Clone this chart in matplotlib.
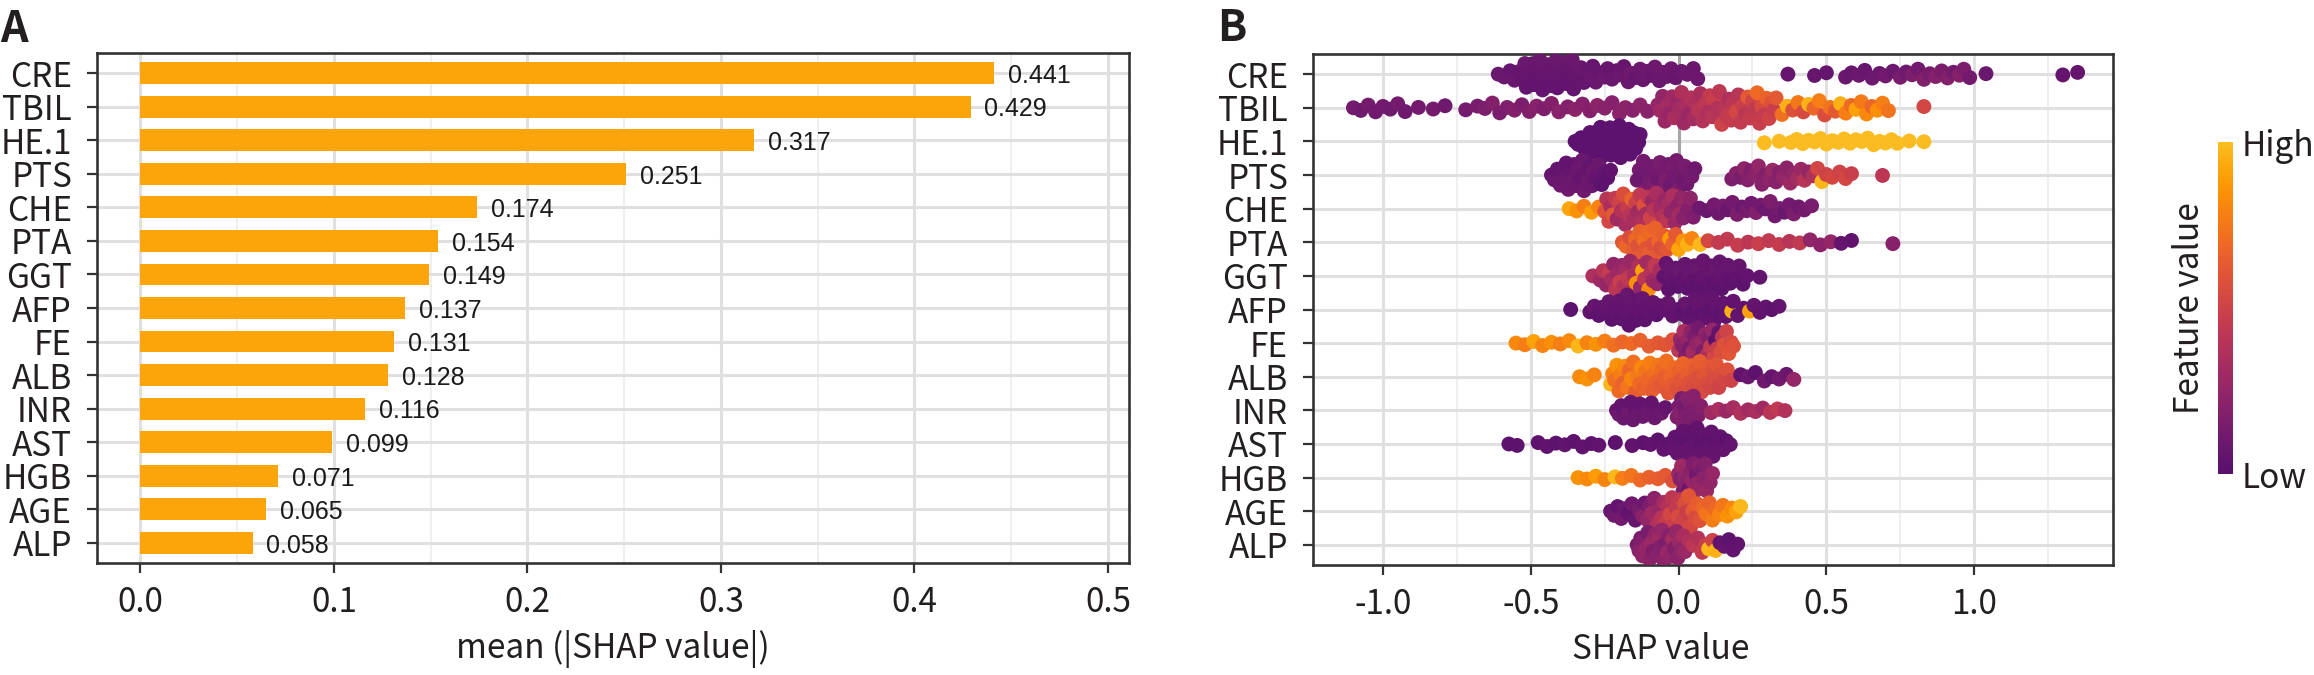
import numpy as np
import matplotlib
matplotlib.use('Agg')
import matplotlib.pyplot as plt
from matplotlib.colors import ListedColormap

plt.rcParams['font.family'] = ['Noto Sans CJK SC', 'DejaVu Sans']

features = ["CRE", "TBIL", "HE.1", "PTS", "CHE", "PTA", "GGT", "AFP",
            "FE", "ALB", "INR", "AST", "HGB", "AGE", "ALP"]
mean_abs_shap = [0.441, 0.429, 0.317, 0.251, 0.174, 0.154, 0.149, 0.137,
                 0.131, 0.128, 0.116, 0.099, 0.071, 0.065, 0.058]

# beeswarm data: (SHAP value, scaled feature value) per feature
CRE = [(-0.61, .08), (-0.59, .08), (-0.57, .06), (-0.555, .08), (-0.54, .06),
       (-0.53, .06), (-0.52, .08), (-0.515, .05), (-0.51, .07), (-0.50, .06), (-0.495, .08),
       (-0.49, .05), (-0.48, .07), (-0.475, .06), (-0.47, .08), (-0.46, .05), (-0.455, .07),
       (-0.45, .06), (-0.44, .08), (-0.435, .05), (-0.43, .07), (-0.42, .06), (-0.415, .08),
       (-0.41, .05), (-0.40, .07), (-0.395, .06), (-0.39, .08), (-0.38, .05), (-0.375, .07),
       (-0.37, .06), (-0.36, .08), (-0.355, .05), (-0.35, .07), (-0.34, .06), (-0.33, .08),
       (-0.32, .06), (-0.31, .07), (-0.30, .08),
       (-0.29, .07), (-0.28, .08), (-0.265, .06), (-0.25, .09), (-0.24, .07), (-0.225, .08),
       (-0.21, .06), (-0.20, .09), (-0.185, .07), (-0.17, .08), (-0.16, .10), (-0.145, .07),
       (-0.13, .09), (-0.12, .08), (-0.105, .10), (-0.09, .07), (-0.08, .09), (-0.065, .08),
       (-0.05, .10), (-0.04, .08), (-0.025, .09), (-0.01, .07),
       (0.01, .08), (0.03, .10), (0.05, .08), (0.065, .09),
       (0.37, .06), (0.46, .07), (0.50, .06), (0.565, .08), (0.585, .07), (0.61, .09),
       (0.63, .07), (0.655, .10), (0.68, .08), (0.70, .12), (0.725, .09), (0.75, .14),
       (0.77, .10), (0.79, .16), (0.81, .12), (0.83, .18), (0.85, .14), (0.87, .20),
       (0.89, .15), (0.91, .18), (0.93, .13), (0.95, .20), (0.965, .16), (0.985, .12),
       (1.04, .08), (1.30, .06), (1.35, .06)]

TBIL = [(-1.10, .12), (-1.075, .10), (-1.05, .13), (-1.025, .11), (-1.00, .12), (-0.975, .10),
        (-0.95, .13), (-0.925, .11),
        (-0.88, .12), (-0.83, .13), (-0.79, .10), (-0.72, .13),
        (-0.68, .14), (-0.655, .16), (-0.63, .18), (-0.605, .15), (-0.58, .17), (-0.555, .19),
        (-0.53, .16), (-0.505, .18), (-0.48, .20), (-0.455, .17), (-0.43, .19), (-0.405, .21),
        (-0.375, .18), (-0.35, .22), (-0.325, .20), (-0.30, .19), (-0.275, .23), (-0.25, .21),
        (-0.225, .20), (-0.20, .23), (-0.18, .22),
        (-0.155, .20), (-0.13, .23), (-0.105, .21),
        (-0.07, .26), (-0.062, .30), (-0.054, .24), (-0.046, .28), (-0.038, .32), (-0.03, .26),
        (-0.022, .30), (-0.014, .34), (-0.006, .28), (0.002, .32), (0.01, .36), (0.018, .30),
        (0.026, .34), (0.034, .28), (0.042, .38), (0.05, .32), (0.058, .36), (0.066, .40),
        (0.074, .34), (0.082, .38), (0.09, .42), (0.098, .36), (0.106, .45), (0.114, .40),
        (0.122, .48), (0.13, .38), (0.138, .42), (0.146, .50), (0.154, .40), (0.162, .44),
        (0.17, .37), (0.178, .46), (0.186, .42), (0.194, .52), (0.202, .40), (0.21, .45),
        (0.218, .48), (0.226, .42), (0.234, .62), (0.242, .46), (0.25, .50), (0.258, .44),
        (0.266, .70), (0.274, .48), (0.282, .55), (0.29, .46), (0.298, .66), (0.306, .50),
        (0.314, .58), (0.322, .48), (0.33, .62),
        (0.35, .72), (0.368, .95), (0.386, .58), (0.404, .75), (0.422, .54), (0.44, .96),
        (0.458, .68), (0.476, .78), (0.494, .56), (0.512, .74), (0.53, .62), (0.548, .95),
        (0.566, .78), (0.584, .70), (0.60, .90), (0.618, .76), (0.636, .82), (0.654, .68),
        (0.672, .84), (0.69, .78), (0.71, .74),
        (0.83, .52)]

HE1 = [(-0.35, .02), (-0.34, .02), (-0.33, .02), (-0.32, .02), (-0.313, .02), (-0.306, .02),
       (-0.30, .02), (-0.295, .02), (-0.29, .02), (-0.285, .02), (-0.28, .02), (-0.276, .02),
       (-0.272, .02), (-0.268, .02), (-0.264, .02), (-0.26, .02), (-0.256, .02), (-0.252, .02),
       (-0.248, .02), (-0.244, .02), (-0.24, .02), (-0.236, .02), (-0.232, .02), (-0.228, .02),
       (-0.224, .02), (-0.22, .02), (-0.216, .02), (-0.212, .02), (-0.208, .02), (-0.204, .02),
       (-0.20, .02), (-0.196, .02), (-0.192, .02), (-0.188, .02), (-0.184, .02), (-0.18, .02),
       (-0.176, .02), (-0.172, .02), (-0.168, .02), (-0.164, .02), (-0.16, .02), (-0.155, .02),
       (-0.15, .02), (-0.145, .02), (-0.14, .02), (-0.135, .02), (-0.13, .02),
       (0.29, .99), (0.34, .99), (0.38, .99), (0.40, .99), (0.42, .99), (0.44, .99),
       (0.46, .99), (0.48, .99), (0.50, .99), (0.52, .99), (0.54, .99), (0.56, .99),
       (0.58, .99), (0.60, .99), (0.62, .99), (0.64, .99), (0.66, .99), (0.68, .99),
       (0.70, .99), (0.72, .99), (0.74, .99), (0.78, .99), (0.83, .99)]

PTS = [(-0.43, .06), (-0.42, .08), (-0.41, .05), (-0.40, .09), (-0.393, .06), (-0.386, .08),
       (-0.38, .05), (-0.373, .10), (-0.366, .07), (-0.36, .09), (-0.353, .05), (-0.346, .08),
       (-0.34, .09), (-0.333, .06), (-0.326, .08), (-0.32, .11), (-0.313, .07), (-0.306, .09),
       (-0.30, .05), (-0.293, .08), (-0.286, .10), (-0.28, .06), (-0.27, .08), (-0.26, .03),
       (-0.25, .05), (-0.24, .03), (-0.23, .04),
       (-0.14, .10), (-0.133, .13), (-0.126, .09), (-0.119, .12), (-0.112, .15), (-0.105, .10),
       (-0.098, .13), (-0.091, .11), (-0.084, .15), (-0.077, .12), (-0.07, .10), (-0.063, .14),
       (-0.056, .11), (-0.049, .13), (-0.042, .16), (-0.035, .12), (-0.028, .10), (-0.021, .14),
       (-0.014, .11), (-0.007, .13), (0.0, .15), (0.007, .12), (0.014, .10), (0.021, .14),
       (0.028, .11), (0.035, .13), (0.045, .12), (0.055, .10),
       (0.18, .16), (0.195, .20), (0.21, .15), (0.222, .23), (0.234, .19), (0.246, .17),
       (0.258, .22), (0.27, .25), (0.282, .20), (0.294, .18), (0.306, .23), (0.318, .27),
       (0.33, .21), (0.342, .19), (0.354, .25), (0.366, .22), (0.378, .29), (0.39, .24),
       (0.402, .33), (0.414, .28), (0.426, .40), (0.44, .25), (0.455, .36), (0.47, .52),
       (0.485, .97), (0.50, .50), (0.52, .53), (0.545, .50), (0.565, .53), (0.585, .48),
       (0.69, .42)]

CHE = [(-0.37, .92), (-0.345, .85), (-0.32, .78), (-0.295, .88), (-0.27, .80),
       (-0.25, .58), (-0.243, .40), (-0.236, .52), (-0.229, .35), (-0.222, .62), (-0.215, .44),
       (-0.208, .30), (-0.201, .50), (-0.194, .38), (-0.187, .56), (-0.18, .33), (-0.173, .46),
       (-0.166, .40), (-0.159, .66), (-0.152, .35), (-0.145, .50), (-0.138, .31), (-0.131, .44),
       (-0.124, .37), (-0.117, .58), (-0.11, .33), (-0.103, .42), (-0.096, .50), (-0.089, .29),
       (-0.082, .40), (-0.075, .35), (-0.068, .54), (-0.061, .31), (-0.054, .38), (-0.047, .27),
       (-0.04, .42), (-0.033, .33), (-0.026, .25), (-0.019, .36), (-0.012, .29), (-0.005, .23),
       (0.002, .31), (0.009, .25), (0.016, .21), (0.023, .27), (0.03, .19), (0.04, .23),
       (0.05, .17),
       (0.07, .10), (0.095, .08), (0.12, .12),
       (0.135, .10), (0.15, .14), (0.166, .08), (0.182, .12), (0.198, .16), (0.214, .09),
       (0.23, .14), (0.246, .11), (0.262, .18), (0.278, .12), (0.294, .09), (0.31, .16),
       (0.326, .11), (0.342, .14), (0.358, .08), (0.374, .12), (0.39, .16), (0.406, .10),
       (0.425, .12), (0.45, .14)]

PTA = [(-0.19, .60), (-0.178, .68), (-0.166, .56), (-0.154, .64), (-0.145, .70), (-0.138, .58),
       (-0.131, .66), (-0.124, .62), (-0.117, .72), (-0.11, .60), (-0.104, .68), (-0.098, .64),
       (-0.092, .70), (-0.086, .58), (-0.08, .66), (-0.074, .62), (-0.067, .68), (-0.06, .56),
       (-0.05, .64), (-0.04, .60), (-0.03, .88), (-0.02, .66), (-0.01, .62), (0.0, .92),
       (0.015, .85), (0.03, .95), (0.045, .80), (0.073, .98), (0.10, .52), (0.135, .45),
       (0.165, .44), (0.20, .46), (0.235, .42), (0.27, .48), (0.305, .44), (0.34, .46),
       (0.375, .40), (0.41, .44), (0.445, .24), (0.48, .22), (0.515, .26), (0.55, .06),
       (0.585, .04), (0.725, .20)]

GGT = [(-0.29, .36),
       (-0.265, .30), (-0.255, .40), (-0.245, .26), (-0.235, .46), (-0.227, .33), (-0.22, .24),
       (-0.213, .42), (-0.206, .30), (-0.199, .48), (-0.192, .26), (-0.185, .38), (-0.178, .32),
       (-0.171, .44), (-0.164, .28), (-0.157, .40), (-0.15, .34), (-0.143, .85), (-0.136, .36),
       (-0.129, .26), (-0.122, .90), (-0.115, .42), (-0.108, .32), (-0.101, .82), (-0.094, .38),
       (-0.087, .30), (-0.08, .44), (-0.072, .26), (-0.064, .34),
       (-0.05, .04), (-0.042, .06), (-0.034, .03), (-0.026, .07), (-0.018, .04), (-0.01, .06),
       (-0.002, .03), (0.006, .08), (0.014, .04), (0.022, .06), (0.03, .03), (0.038, .07),
       (0.046, .04), (0.054, .06), (0.062, .03), (0.069, .08), (0.076, .04), (0.083, .06),
       (0.09, .03), (0.097, .07), (0.104, .04), (0.111, .06), (0.118, .03), (0.125, .08),
       (0.132, .04), (0.139, .06), (0.146, .03), (0.153, .07), (0.16, .04), (0.167, .06),
       (0.175, .03), (0.185, .07), (0.195, .04), (0.205, .06), (0.218, .03), (0.232, .05),
       (0.275, .04)]

AFP = [(-0.365, .03),
       (-0.30, .04), (-0.285, .06), (-0.27, .03), (-0.258, .05), (-0.246, .04), (-0.236, .07),
       (-0.226, .03), (-0.217, .05), (-0.208, .04), (-0.20, .06), (-0.193, .03), (-0.186, .05),
       (-0.18, .04), (-0.174, .07), (-0.168, .03), (-0.162, .05), (-0.156, .04), (-0.15, .06),
       (-0.144, .03), (-0.137, .05), (-0.13, .04), (-0.122, .07), (-0.114, .03), (-0.105, .05),
       (-0.096, .04), (-0.086, .06), (-0.075, .03), (-0.063, .05), (-0.05, .04), (-0.035, .06),
       (-0.02, .04),
       (0.0, .05), (0.012, .03), (0.022, .06), (0.031, .04), (0.04, .07), (0.048, .03),
       (0.056, .05), (0.063, .04), (0.07, .06), (0.077, .03), (0.084, .05), (0.091, .04),
       (0.098, .07), (0.105, .03), (0.113, .05), (0.121, .04), (0.13, .06), (0.14, .03),
       (0.15, .05), (0.16, .04), (0.172, .06), (0.18, .95), (0.185, .04), (0.20, .05),
       (0.22, .04), (0.24, .90), (0.255, .06), (0.275, .04), (0.295, .05), (0.315, .03),
       (0.34, .05)]

FE = [(-0.55, .82), (-0.52, .78), (-0.49, .90), (-0.46, .80), (-0.43, .84), (-0.40, .78),
      (-0.37, .82), (-0.34, .97), (-0.31, .80), (-0.28, .85), (-0.25, .78), (-0.22, .72),
      (-0.19, .68), (-0.16, .70), (-0.13, .66), (-0.10, .64), (-0.07, .62), (-0.045, .60),
      (-0.02, .58),
      (0.0, .42), (0.006, .26), (0.012, .20), (0.018, .34), (0.024, .18), (0.03, .26),
      (0.036, .14), (0.042, .22), (0.048, .31), (0.054, .16), (0.06, .24), (0.066, .12),
      (0.072, .20), (0.078, .28), (0.084, .16), (0.09, .23), (0.096, .36), (0.102, .18),
      (0.108, .45), (0.114, .26), (0.12, .52), (0.125, .03), (0.13, .48), (0.136, .04),
      (0.142, .56), (0.148, .42), (0.155, .58), (0.162, .50), (0.17, .60), (0.178, .54),
      (0.186, .58)]

ALB = [(-0.335, .82), (-0.31, .85), (-0.285, .80),
       (-0.23, .98), (-0.223, .80), (-0.216, .72), (-0.209, .85), (-0.202, .70), (-0.195, .78),
       (-0.188, .66), (-0.181, .82), (-0.174, .74), (-0.167, .68), (-0.16, .80), (-0.153, .72),
       (-0.146, .65), (-0.139, .76), (-0.132, .70), (-0.125, .82), (-0.118, .66), (-0.111, .74),
       (-0.104, .68), (-0.097, .78), (-0.09, .64), (-0.083, .72), (-0.076, .66), (-0.069, .75),
       (-0.062, .62), (-0.055, .70), (-0.048, .64), (-0.041, .72), (-0.034, .60), (-0.027, .68),
       (-0.02, .63), (-0.013, .70), (-0.006, .58), (0.001, .66), (0.008, .60), (0.015, .68),
       (0.022, .56), (0.029, .64), (0.036, .58), (0.043, .66), (0.05, .55), (0.057, .62),
       (0.064, .57), (0.071, .64), (0.078, .54), (0.085, .60), (0.092, .56), (0.099, .62),
       (0.106, .52), (0.113, .58), (0.12, .54), (0.128, .60), (0.136, .50), (0.145, .56),
       (0.155, .52), (0.165, .58), (0.178, .50),
       (0.21, .04), (0.235, .08), (0.26, .03), (0.29, .10), (0.315, .06), (0.34, .12),
       (0.365, .08), (0.39, .26)]

INR = [(-0.21, .06), (-0.202, .09), (-0.194, .05), (-0.186, .08), (-0.178, .06), (-0.17, .10),
       (-0.162, .05), (-0.154, .08), (-0.146, .06), (-0.138, .09), (-0.13, .05), (-0.121, .08),
       (-0.112, .06), (-0.102, .09), (-0.092, .05), (-0.081, .08), (-0.07, .06), (-0.058, .09),
       (-0.045, .06),
       (-0.005, .17), (0.0, .14), (0.005, .20), (0.01, .15), (0.015, .19), (0.02, .13),
       (0.025, .17), (0.03, .21), (0.035, .15), (0.04, .18), (0.045, .16), (0.05, .20),
       (0.055, .14), (0.06, .17), (0.067, .16), (0.075, .19),
       (0.11, .30), (0.135, .35), (0.16, .28), (0.185, .33), (0.21, .37), (0.235, .31),
       (0.26, .35), (0.285, .30), (0.31, .40), (0.335, .44), (0.36, .38)]

AST = [(-0.574, .03), (-0.546, .03),
       (-0.475, .03), (-0.445, .04), (-0.415, .03), (-0.385, .04), (-0.355, .03), (-0.325, .04),
       (-0.295, .03), (-0.27, .04),
       (-0.214, .03), (-0.157, .04),
       (-0.12, .03), (-0.095, .04), (-0.07, .03), (-0.05, .05),
       (-0.03, .03), (-0.02, .05), (-0.012, .04), (-0.004, .06), (0.003, .03), (0.009, .05),
       (0.015, .04), (0.021, .07), (0.027, .03), (0.033, .05), (0.039, .04), (0.045, .06),
       (0.051, .03), (0.057, .05), (0.063, .04), (0.069, .07), (0.075, .03), (0.081, .05),
       (0.087, .04), (0.093, .06), (0.099, .03), (0.105, .05), (0.111, .04), (0.117, .06),
       (0.124, .03), (0.132, .05), (0.141, .04), (0.151, .06), (0.162, .03), (0.175, .05)]

HGB = [(-0.34, .85), (-0.31, .82), (-0.28, .88), (-0.25, .80), (-0.215, .97), (-0.19, .78),
       (-0.16, .74), (-0.13, .70), (-0.10, .66), (-0.07, .64), (-0.045, .62), (-0.02, .58),
       (0.0, .26), (0.005, .18), (0.01, .30), (0.015, .14), (0.02, .24), (0.025, .20),
       (0.03, .28), (0.035, .08), (0.04, .22), (0.045, .26), (0.05, .16), (0.055, .30),
       (0.06, .11), (0.065, .24), (0.07, .20), (0.075, .26), (0.08, .14), (0.085, .22),
       (0.09, .18), (0.095, .28), (0.10, .21), (0.107, .24), (0.115, .26)]

AGE = [(-0.23, .07), (-0.218, .10), (-0.206, .05), (-0.194, .12), (-0.182, .08), (-0.17, .04),
       (-0.158, .11), (-0.146, .07), (-0.134, .14),
       (-0.122, .20), (-0.114, .09), (-0.106, .25), (-0.098, .16), (-0.09, .30), (-0.082, .23),
       (-0.074, .36), (-0.066, .27), (-0.058, .41), (-0.05, .33), (-0.043, .46), (-0.036, .38),
       (-0.029, .52), (-0.022, .42), (-0.015, .48), (-0.008, .44), (-0.001, .55), (0.006, .46),
       (0.013, .50), (0.02, .57), (0.027, .48), (0.034, .60), (0.041, .53), (0.048, .62),
       (0.055, .55), (0.063, .64), (0.072, .58),
       (0.082, .68), (0.093, .74), (0.104, .66), (0.115, .77), (0.126, .70), (0.138, .80),
       (0.15, .75),
       (0.165, .85), (0.18, .82), (0.195, .90), (0.21, .98)]

ALP = [(-0.14, .14), (-0.134, .21), (-0.128, .16), (-0.122, .24), (-0.116, .18), (-0.11, .26),
       (-0.104, .14), (-0.098, .22), (-0.092, .28), (-0.086, .16), (-0.08, .24), (-0.074, .20),
       (-0.068, .30), (-0.062, .18), (-0.056, .26), (-0.05, .22), (-0.044, .16), (-0.038, .28),
       (-0.032, .20), (-0.026, .24), (-0.02, .32), (-0.014, .18), (-0.008, .26), (-0.002, .22),
       (0.004, .30), (0.01, .24), (0.016, .34), (0.022, .28),
       (0.035, .36), (0.05, .42), (0.065, .38), (0.08, .45), (0.092, .48), (0.102, .98),
       (0.115, .50), (0.125, .95),
       (0.14, .04), (0.155, .06), (0.17, .03), (0.185, .05), (0.20, .04)]

swarm_rows = [CRE, TBIL, HE1, PTS, CHE, PTA, GGT, AFP, FE, ALB, INR, AST, HGB, AGE, ALP]

BAR_COLOR = "#fca50a"
TEXT_COLOR = "#231f20"
FRAME_COLOR = "#333333"
cmap = ListedColormap(plt.cm.inferno(np.linspace(0.25, 0.85, 256)))


def vdc(n, base=2):
    v, denom = 0.0, 1.0
    while n:
        denom *= base
        n, r = divmod(n, base)
        v += r / denom
    return v


def quasirandom_offsets(x, width=0.5, bw=0.018):
    # density scaled van der Corput offsets, like ggbeeswarm's quasirandom
    x = np.asarray(x, dtype=float)
    d = np.exp(-0.5 * ((x[:, None] - x[None, :]) / bw) ** 2).sum(axis=1)
    d = d / d.max()
    off = np.empty_like(x)
    for rank, idx in enumerate(np.argsort(x, kind="stable"), start=1):
        off[idx] = (2 * vdc(rank) - 1) * width * d[idx]
    return off


def style_axes(ax):
    for sp in ax.spines.values():
        sp.set_color(FRAME_COLOR)
        sp.set_linewidth(1.9)
    ax.tick_params(axis="both", which="major", length=7, width=1.6, color=FRAME_COLOR,
                   labelsize=24, labelcolor=TEXT_COLOR)
    ax.tick_params(axis="y", pad=11)
    ax.tick_params(axis="x", pad=9)
    ax.tick_params(which="minor", length=0)
    ax.grid(True, which="major", color="#e0e0e0", linewidth=2.2, zorder=0)
    ax.grid(True, which="minor", axis="x", color="#efefef", linewidth=1.4, zorder=0)
    ax.set_axisbelow(True)


n = len(features)
ypos = np.arange(n)[::-1]

fig = plt.figure(figsize=(23.14, 6.75), dpi=100)

# ---- panel A: mean |SHAP| bars
axA = fig.add_axes([97 / 2314, 112 / 675, 1032 / 2314, 510 / 675])
axA.barh(ypos, mean_abs_shap, height=0.65, color=BAR_COLOR, zorder=2)
for y, v in zip(ypos, mean_abs_shap):
    axA.annotate(f"{v:.3f}", (v, y), xytext=(10, -2), textcoords="offset points",
                 ha="left", va="center", fontsize=18, family="Liberation Sans",
                 color="#1a1a1a")
axA.set_xlim(-0.0224, 0.5109)
axA.set_ylim(-0.6, n - 0.4)
axA.set_xticks([0, 0.1, 0.2, 0.3, 0.4, 0.5])
axA.set_xticklabels(["0.0", "0.1", "0.2", "0.3", "0.4", "0.5"])
axA.set_xticks([0.05, 0.15, 0.25, 0.35, 0.45], minor=True)
axA.set_yticks(ypos)
axA.set_yticklabels(features)
style_axes(axA)
axA.set_xlabel("mean (|SHAP value|)", fontsize=24, color=TEXT_COLOR, labelpad=7)

# ---- panel B: beeswarm
axB = fig.add_axes([1313 / 2314, 110 / 675, 800 / 2314, 511 / 675])
axB.axvline(0, color="#a6a6a6", linewidth=2.2, zorder=1)
for y, row in zip(ypos, swarm_rows):
    xs = np.array([p[0] for p in row])
    fv = np.array([p[1] for p in row])
    off = quasirandom_offsets(xs)
    sc = axB.scatter(xs, y + off, c=fv, cmap=cmap, vmin=0, vmax=1, s=115,
                     linewidths=0, zorder=3)
axB.set_xlim(-1.2367, 1.4697)
axB.set_ylim(-0.6, n - 0.4)
axB.set_xticks([-1.0, -0.5, 0.0, 0.5, 1.0])
axB.set_xticklabels(["-1.0", "-0.5", "0.0", "0.5", "1.0"])
axB.set_xticks([-0.75, -0.25, 0.25, 0.75, 1.25], minor=True)
axB.set_yticks(ypos)
axB.set_yticklabels(features)
style_axes(axB)
axB.set_xlabel("SHAP value", fontsize=24, color=TEXT_COLOR, labelpad=7)
axB.xaxis.label.set_x(0.434)

# ---- colour bar
cax = fig.add_axes([2218 / 2314, 201 / 675, 15 / 2314, 332 / 675])
cb = fig.colorbar(sc, cax=cax)
cb.outline.set_visible(False)
cb.set_ticks([0, 1])
cb.set_ticklabels(["Low", "High"])
cax.tick_params(length=0, labelsize=24, labelcolor=TEXT_COLOR, pad=6)
cax.yaxis.set_label_position("left")
cb.set_label("Feature value", fontsize=24, color=TEXT_COLOR, labelpad=8)

# ---- panel letters
fig.text(0.0, 1 - 42 / 675, "A", fontsize=31, fontweight="bold", color=TEXT_COLOR,
         ha="left", va="baseline")
fig.text(1217 / 2314, 1 - 41 / 675, "B", fontsize=31, fontweight="bold", color=TEXT_COLOR,
         ha="left", va="baseline")

fig.savefig("out.png", dpi=100)
